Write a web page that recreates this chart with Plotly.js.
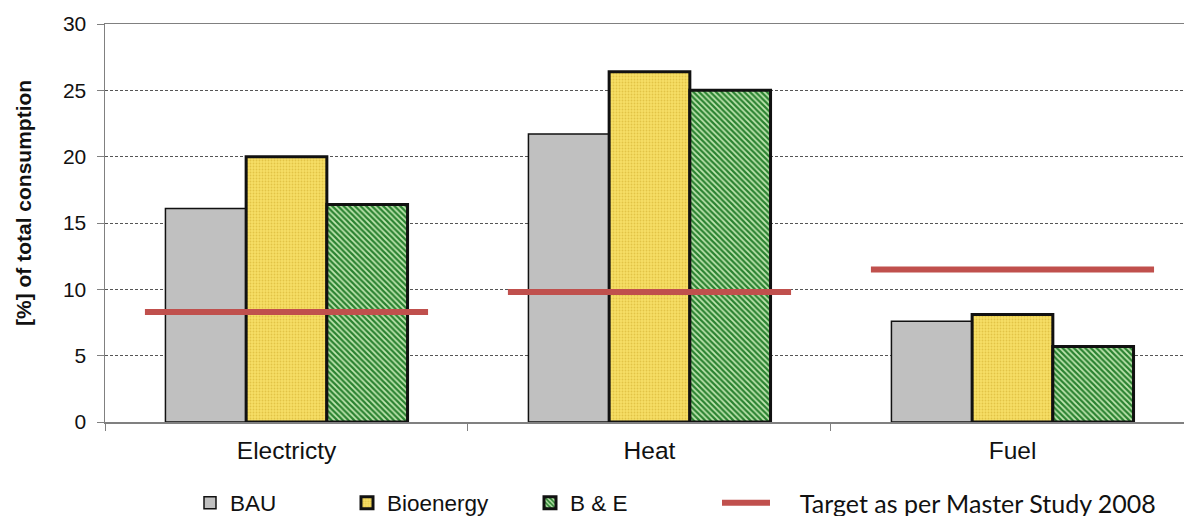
<!DOCTYPE html>
<html><head><meta charset="utf-8">
<script src="https://cdn.plot.ly/plotly-3.0.1.min.js"></script>
<style>html,body{margin:0;padding:0;background:#fff}#chart{width:1184px;height:516px}</style>
</head><body><div id="chart"></div>
<script>
const categories = ['Electricty', 'Heat', 'Fuel'];
const bau = [16.1, 21.7, 7.6];
const bioenergy = [20.0, 26.4, 8.1];
const bAndE = [16.4, 25.0, 5.7];
const target = [8.3, 9.8, 11.5];
const seriesNames = ['BAU', 'Bioenergy', 'B & E', 'Target as per Master Study 2008'];
const yTicks = [0, 5, 10, 15, 20, 25, 30];
const yTitle = '[%] of total consumption';

const xRange = [-0.5, 2.4725];
const halfLen = 0.39;
const tx = [], ty = [];
target.forEach((v, i) => { tx.push(i - halfLen, i + halfLen, null); ty.push(v, v, null); });

const FONT = 'Liberation Sans, Arial, sans-serif';
const LFONT = 'Lato, Open Sans, sans-serif';
const PAD = '\u00a0\u00a0\u00a0\u00a0';

const traces = [
  { type: 'bar', name: seriesNames[0], x: categories, y: bau, legend: 'legend',
    marker: { color: '#c0c0c0', line: { color: '#111', width: 1.5 } } },
  { type: 'bar', name: seriesNames[1], x: categories, y: bioenergy, legend: 'legend2',
    marker: { color: '#f6dc5c', line: { color: '#111', width: 3 },
      pattern: { shape: '.', fgcolor: '#e2c446', bgcolor: '#f7df66', size: 3, solidity: 0.3 } } },
  { type: 'bar', name: seriesNames[2], x: categories, y: bAndE, legend: 'legend3',
    marker: { color: '#6cb45c', line: { color: '#111', width: 3 },
      pattern: { shape: '\\', fgcolor: '#2a8230', bgcolor: '#c0e6b0', size: 4, solidity: 0.55 } } },
  { type: 'scatter', mode: 'lines', name: PAD + seriesNames[3], x: tx, y: ty, xaxis: 'x2', legend: 'legend4',
    line: { color: '#c0504d', width: 6 }, connectgaps: false }
];

function leg(px, py, font, extra) {
  return Object.assign({ orientation: 'h', xref: 'container', yref: 'container', x: px / 1184, y: 1 - py / 516,
    xanchor: 'left', yanchor: 'middle', bgcolor: 'rgba(0,0,0,0)', borderwidth: 0,
    font: font }, extra || {});
}
const legFontA = { family: FONT, size: 22.5, color: '#111' };
const legFontB = { family: LFONT, size: 25, color: '#111' };

const layout = {
  width: 1184, height: 516,
  margin: { l: 105, r: 0, t: 24, b: 94 },
  paper_bgcolor: '#fff', plot_bgcolor: '#fff',
  barmode: 'group', bargap: 0.333, bargroupgap: 0,
  font: { family: FONT, color: '#111' },
  xaxis: {
    type: 'category', range: xRange, showline: true, linecolor: '#808080', linewidth: 1.5, mirror: true,
    ticks: 'outside', tickson: 'boundaries', ticklen: 7, tickcolor: '#808080', showgrid: false,
    tickfont: { family: FONT, size: 24.5, color: '#111' }, ticklabelstandoff: 6, fixedrange: true
  },
  xaxis2: { overlaying: 'x', type: 'linear', range: xRange, visible: false, fixedrange: true },
  yaxis: {
    range: [0, 30], tickvals: yTicks, showline: true, linecolor: '#808080', linewidth: 1.5,
    ticks: 'outside', ticklen: 7, tickcolor: '#808080', zeroline: false,
    gridcolor: '#555', gridwidth: 1, griddash: '3px,2px',
    tickfont: { family: FONT, size: 21, color: '#111' }, ticklabelstandoff: 6,
    fixedrange: true
  },
  annotations: [{
    text: yTitle, textangle: -90, showarrow: false,
    xref: 'paper', yref: 'paper', x: (23 - 105) / 1079, y: (422 - 203) / 398,
    xanchor: 'center', yanchor: 'middle',
    font: { family: FONT, size: 21, color: '#111', weight: 'bold' }
  }],
  legend: leg(190, 503, legFontA),
  legend2: leg(347, 503, legFontA),
  legend3: leg(530, 503, legFontA),
  legend4: leg(717, 503, legFontB, { itemwidth: 48 }),
  showlegend: true
};

Plotly.newPlot('chart', traces, layout, { displayModeBar: false, staticPlot: true });
</script>
</body></html>
